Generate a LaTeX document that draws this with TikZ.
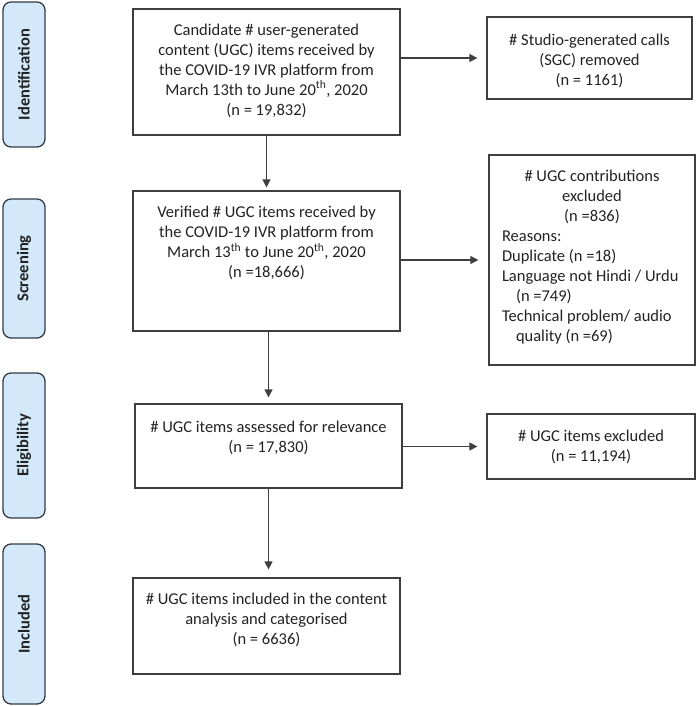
\documentclass[tikz,border=0pt]{standalone}
\usepackage{fontspec}
\setmainfont{Carlito}
\usepackage{tikz}
\usetikzlibrary{arrows.meta,positioning}
\definecolor{sidefill}{RGB}{211,232,248}
\definecolor{sideline}{RGB}{50,60,72}
\definecolor{boxline}{RGB}{62,62,62}
\definecolor{ink}{RGB}{34,34,34}

\begin{document}
\begin{tikzpicture}[x=1pt,y=-1pt,
    stage/.style={draw=boxline,line width=1.2pt,minimum width=267pt,inner sep=0pt},
    side/.style={draw=sideline,fill=sidefill,line width=1.3pt,rounded corners=8pt,
        minimum height=42pt,inner sep=0pt,font=\fontsize{16.5}{20}\selectfont\bfseries,text=ink},
    txt/.style={align=center,font=\fontsize{16.5}{20}\selectfont,text=ink,inner sep=0pt},
    flow/.style={-{Triangle[length=8pt,width=8pt]},line width=1.2pt,draw=boxline}]
    \useasboundingbox (0,0) rectangle (700,706);
    \foreach \name/\lab/\Y/\H in {ident/Identification/74.5/145,screen/Screening/268.5/139,
        elig/Eligibility/445.5/145,incl/Included/624/160}
        \node[side,minimum width=\H*1pt,rotate=90] (\name) at (24,\Y) {\lab};
    \node[stage,minimum height=126pt] (candidate) at (266.5,72) {};
    \node[stage,minimum height=140pt] (verified) at (266.5,261) {};
    \node[stage,minimum height=84pt] (assessed) at (268.5,446) {};
    \node[stage,minimum height=96pt] (included) at (266.5,626) {};
    \node[stage,minimum width=205pt,minimum height=82pt] (sgc) at (589.5,58) {};
    \node[stage,minimum width=206pt,minimum height=210pt] (contrib) at (592,260) {};
    \node[stage,minimum width=208pt,minimum height=65pt] (excluded) at (591,446.5) {};
    \node[txt] (candidatetxt) at (266.5,70.5) {Candidate \# user-generated\\content (UGC) items received by\\the COVID-19 IVR platform from\\March 13th to June 20\textsuperscript{th}, 2020\\(n = 19,832)};
    \node[txt] (verifiedtxt) at (266.5,243) {Verified \# UGC items received by\\the COVID-19 IVR platform from\\March 13\textsuperscript{th} to June 20\textsuperscript{th}, 2020\\(n =18,666)};
    \node[txt] (assessedtxt) at (268.5,438) {\# UGC items assessed for relevance\\(n = 17,830)};
    \node[txt] (includedtxt) at (266.5,620) {\# UGC items included in the content\\analysis and categorised\\(n = 6636)};
    \node[txt] (sgctxt) at (589.5,61) {\# Studio-generated calls\\(SGC) removed\\(n = 1161)};
    \node[txt,align=none,text width=180pt] (contribtxt) at (592,257.5) {{\centering \# UGC contributions\\excluded\\(n =836)\par}\raggedright Reasons:\\Duplicate~(n~=18)\\Language~not~Hindi~/~Urdu\\\hspace*{14pt}(n~=749)\\Technical~problem/~audio\\\hspace*{14pt}quality~(n~=69)\par};
    \node[txt] (excludedtxt) at (591,447) {\# UGC items excluded\\(n = 11,194)};
    \draw[flow,shorten >=3pt] (candidate) -- (verified);
    \draw[flow,shorten >=6pt] (verified.south -| assessed) -- (assessed.north);
    \draw[flow,shorten >=8pt] (assessed.south) -- (assessed.south |- included.north);
    \draw[flow,shorten >=9pt] (candidate.east |- sgc) -- (sgc.west);
    \draw[flow,shorten >=10pt] (verified.east |- contrib) -- (contrib.west);
    \draw[flow,shorten >=9pt] (assessed.east |- excluded) -- (excluded.west);
\end{tikzpicture}
\end{document}
